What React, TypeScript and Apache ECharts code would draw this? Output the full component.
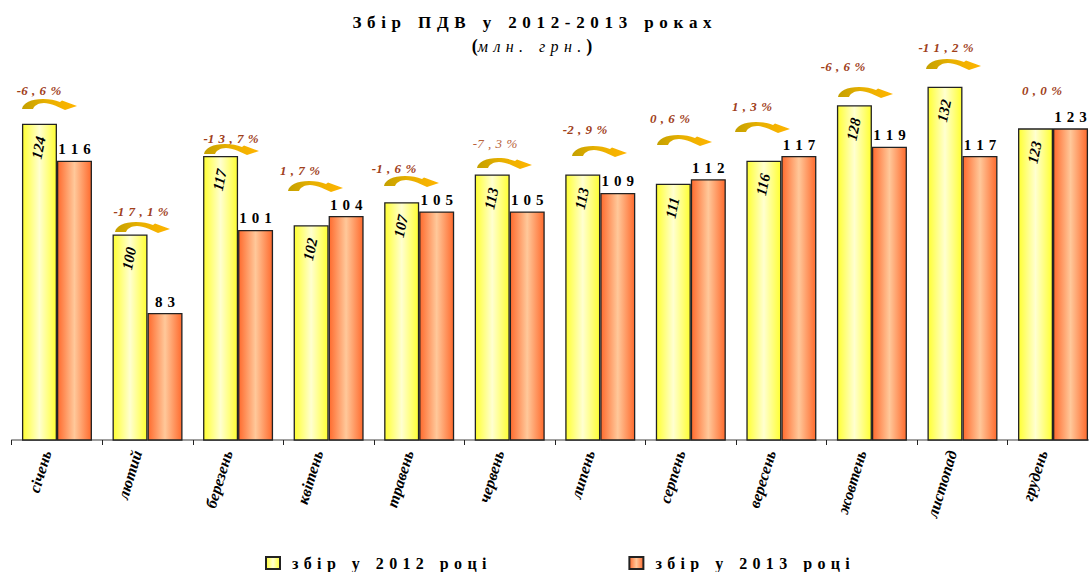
import React, { useEffect, useRef } from "react";
import * as echarts from "echarts";

const months = ["січень", "лютий", "березень", "квітень", "травень", "червень", "липень", "серпень", "вересень", "жовтень", "листопад", "грудень"];
const values2012 = [124, 100, 117, 102, 107, 113, 113, 111, 116, 128, 132, 123];
const values2013 = [116, 83, 101, 104, 105, 105, 109, 112, 117, 119, 117, 123];
const changes = ["-6 , 6 %", "-1 7 , 1 %", "-1 3 , 7 %", "1 , 7 %", "-1 , 6 %", "-7 , 3 %", "-2 , 9 %", "0 , 6 %", "1 , 3 %", "-6 , 6 %", "-1 1 , 2 %", "0 , 0 %"];
const track = (s: string) => s.split(" ").join("\u2004");
const seriesNames = [track("з б і р   у   2 0 1 2   р о ц і"), track("з б і р   у   2 0 1 3   р о ц і")];

const labelPlaces = [[39, 90], [141, 211], [231, 138], [300, 170], [394, 168], [495, 143], [585, 129], [670, 118], [752, 106], [843, 66], [946, 47], [1042, 90]];
const arrowPlaces = [[22, 99], [115, 222], [204, 144], [288, 181], [384, 176], [477, 158], [572, 146], [657, 135], [735, 122], [838, 87], [926, 59]];

const serif = "'Liberation Serif', 'Times New Roman', serif";
const spaced = (n: number) => String(n).split("").join("\u2004");

echarts.graphic.registerShape(
  "curveArrow",
  echarts.graphic.extendPath("M0 10 C1 4 9 0 21 0 C28 0 33 1 38 3 L40 1.5 L55 7 L43 11 L33 6.5 C29 5 25 4 22 4 C16 4 12 7 11 10 Z", {})
);

const barFill = (edge: string, mid: string) =>
  new echarts.graphic.LinearGradient(0, 0, 1, 0, [
    { offset: 0, color: edge },
    { offset: 0.5, color: mid },
    { offset: 1, color: edge },
  ]);

export default function App() {
  const ref = useRef<HTMLDivElement>(null);
  useEffect(() => {
    document.body.style.margin = "0";
    document.body.style.overflow = "hidden";
    const chart = echarts.init(ref.current!, undefined, { renderer: "svg" });
    const arrowFill = new echarts.graphic.LinearGradient(0, 0, 1, 0, [
      { offset: 0, color: "#C4A000" },
      { offset: 0.45, color: "#E8B000" },
      { offset: 1, color: "#FFB400" },
    ]);
    chart.setOption({
      animation: false,
      backgroundColor: "#fff",
      title: [
        {
          text: track("З б і р   П Д В   у   2 0 1 2 - 2 0 1 3   р о к а х"),
          left: 527,
          top: 9,
          textAlign: "center",
          textStyle: { fontFamily: serif, fontSize: 17, fontWeight: "bold", color: "#000" },
        },
        {
          text: "{p|(}{t|" + track("м л н .   г р н .") + "} {p|)}",
          left: 527,
          top: 32,
          textAlign: "center",
          textStyle: {
            fontWeight: "normal",
            rich: {
              p: { fontFamily: serif, fontSize: 18, fontWeight: "bold", color: "#000" },
              t: { fontFamily: serif, fontSize: 16, fontStyle: "italic", fontWeight: "normal", color: "#000" },
            },
          },
        },
      ],
      legend: {
        left: 265,
        top: 555,
        padding: 0,
        icon: "rect",
        itemWidth: 14,
        itemHeight: 12,
        itemGap: 142,
        textStyle: { fontFamily: serif, fontSize: 16, fontWeight: "bold", color: "#000", padding: [0, 0, 0, 7] },
        data: seriesNames,
      },
      grid: { left: 11.7, width: 1086.6, top: 6, height: 434, outerBoundsMode: "none" },
      xAxis: {
        type: "category",
        data: months,
        axisLine: { lineStyle: { color: "#808080", width: 1.5 } },
        axisTick: { show: true, length: 5, alignWithLabel: false, lineStyle: { color: "#222", width: 1 } },
        axisLabel: {
          interval: 0,
          rotate: 73,
          margin: 14,
          verticalAlign: "bottom",
          padding: [0, 0, 3, 0],
          fontFamily: serif,
          fontSize: 16,
          fontStyle: "italic",
          fontWeight: "bold",
          color: "#000",
        },
      },
      yAxis: { type: "value", min: 55.5, max: 149.5, show: false },
      series: [
        {
          type: "bar",
          name: seriesNames[0],
          data: values2012,
          barWidth: 35,
          barGap: 0,
          itemStyle: { color: barFill("#FFFF33", "#FFFFD0"), borderColor: "#222", borderWidth: 1.3 },
          label: {
            show: true,
            position: "insideTop",
            distance: 20,
            rotate: 78,
            offset: [-4, 0],
            align: "center",
            verticalAlign: "middle",
            fontFamily: serif,
            fontSize: 15,
            fontStyle: "italic",
            fontWeight: "bold",
            color: "#000",
          },
        },
        {
          type: "bar",
          name: seriesNames[1],
          data: values2013,
          barWidth: 35,
          itemStyle: { color: barFill("#FF6B2E", "#FFC89A"), borderColor: "#222", borderWidth: 1.3 },
          label: {
            show: true,
            position: "top",
            distance: 4,
            formatter: (p: any) => spaced(p.value),
            fontFamily: serif,
            fontSize: 15,
            fontWeight: "bold",
            color: "#000",
          },
        },
      ],
      graphic: [
        ...arrowPlaces.map(([x, y]) => ({
          type: "curveArrow",
          x,
          y,
          style: { fill: arrowFill },
        })),
        ...changes.map((text, i) => ({
          type: "text",
          x: labelPlaces[i][0],
          y: labelPlaces[i][1],
          style: {
            text: track(text),
            fill: i === 5 ? "#B8623A" : "#A0401A",
            font: `italic ${i === 5 ? "normal" : "bold"} 13px ${serif}`,
            align: "center",
            verticalAlign: "middle",
          },
        })),
      ],
    });
    return () => chart.dispose();
  }, []);
  return <div ref={ref} style={{ width: 1089, height: 572 }} />;
}
